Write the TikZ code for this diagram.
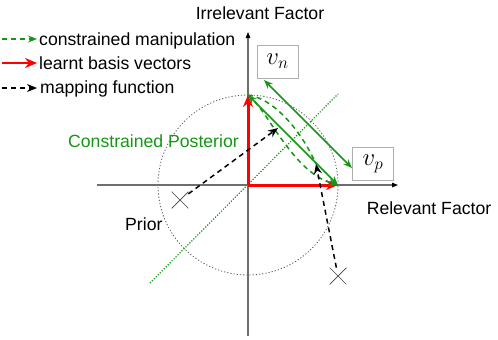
\documentclass[tikz,border=0pt]{standalone}
\usepackage{fontspec}
\setmainfont{Liberation Sans}
\usetikzlibrary{arrows.meta,shapes.misc}
\definecolor{mygreen}{RGB}{22,150,22}
\definecolor{axisgray}{RGB}{110,110,110}
\definecolor{boxgray}{RGB}{175,175,175}
\begin{document}
\begin{tikzpicture}[x=1bp,y=-1bp,
  lbl/.style={font=\fontsize{17.7}{20}\selectfont, inner sep=0pt},
  axisline/.style={draw=axisgray, line width=1.2bp, -{Triangle[length=6bp,width=4.5bp,color=black]}},
  basisvec/.style={draw=red, line width=3bp, -{Stealth[length=12bp,width=10bp]}},
  manip/.style={draw=mygreen, line width=1.5bp, dash pattern=on 5bp off 4bp, -{Stealth[length=9bp,width=7bp]}},
  manipnotip/.style={draw=mygreen, line width=1.5bp, dash pattern=on 5bp off 4bp},
  mapping/.style={draw=black, line width=1.5bp, dash pattern=on 5bp off 4bp, -{Stealth[length=10bp,width=8bp]}},
  spanline/.style={draw=mygreen, line width=1.5bp, {Stealth[length=9bp,width=7bp]}-{Stealth[length=9bp,width=7bp]}},
  vbox/.style={draw=boxgray, line width=0.8bp, minimum width=41bp, minimum height=33bp, inner sep=0pt, font=\fontsize{26}{30}\selectfont},
  priorpt/.style={cross out, draw=black!75, line width=0.7bp, minimum size=16bp, inner sep=0pt},
]
\useasboundingbox (0,0) rectangle (498,339);

% coordinates
\coordinate (O) at (248,185);
\coordinate (A) at (248,95);
\coordinate (B) at (338,185);
\coordinate (XL) at (97,185);
\coordinate (XR) at (398,185);
\coordinate (YB) at (248,336);
\coordinate (YT) at (248,32);
\coordinate (D1) at (150,283);
\coordinate (D2) at (338,94);
\coordinate (S1) at (264,80);
\coordinate (S2) at (352,168);
\coordinate (M1) at (278,128);
\coordinate (M2) at (316,164);

% prior circle
\draw[draw=black!65, line width=0.8bp, dash pattern=on 1.2bp off 2bp] (O) circle[radius=90bp];

% diagonal dotted
\draw[draw=mygreen, line width=1.2bp, dash pattern=on 1.2bp off 1.6bp] (D1) -- (D2);

% axes
\draw[axisline] (XL) -- (XR);
\draw[axisline] (YB) -- (YT);

% labels
\node[lbl, anchor=base] (irr) at (260,19) {Irrelevant Factor};
\node[lbl, anchor=base] (rel) at (429,214) {Relevant Factor};
\node[lbl, anchor=base west] (prior) at (125,230) {Prior};
\node[lbl, anchor=base west, text=mygreen] (post) at (68,147) {Constrained Posterior};

% basis vectors
\draw[basisvec] (O) -- (A);
\draw[basisvec] (O) -- (B);

% green span lines
\draw[spanline] (A) -- (B);
\draw[spanline] (S1) -- (S2);

% constrained manipulation curves
\draw[manip] (A) .. controls (268,110) and (292,172) .. (B);
\draw[manipnotip] (A) .. controls (272,98) and (300,128) .. (M2);

% prior samples and mapping
\node[priorpt] (p1) at (180,200) {};
\node[priorpt] (p2) at (338,276) {};
\draw[mapping] (p1) -- (M1);
\draw[mapping] (p2) -- (M2);

% vector boxes
\node[vbox] (vn) at (277.5,61.5) {$v_n$};
\node[vbox] (vp) at (373,163.5) {$v_p$};

% legend
\coordinate (L1a) at (2,39); \coordinate (L1b) at (37,39);
\coordinate (L2a) at (2,63); \coordinate (L2b) at (37,63);
\coordinate (L3a) at (2,88); \coordinate (L3b) at (37,88);
\draw[manip] (L1a) -- (L1b);
\draw[basisvec, line width=2.2bp] (L2a) -- (L2b);
\draw[mapping] (L3a) -- (L3b);
\node[lbl, anchor=base west] (leg1) at (39,45) {constrained manipulation};
\node[lbl, anchor=base west] (leg2) at (39,69) {learnt basis vectors};
\node[lbl, anchor=base west] (leg3) at (40,93) {mapping function};
\end{tikzpicture}
\end{document}
